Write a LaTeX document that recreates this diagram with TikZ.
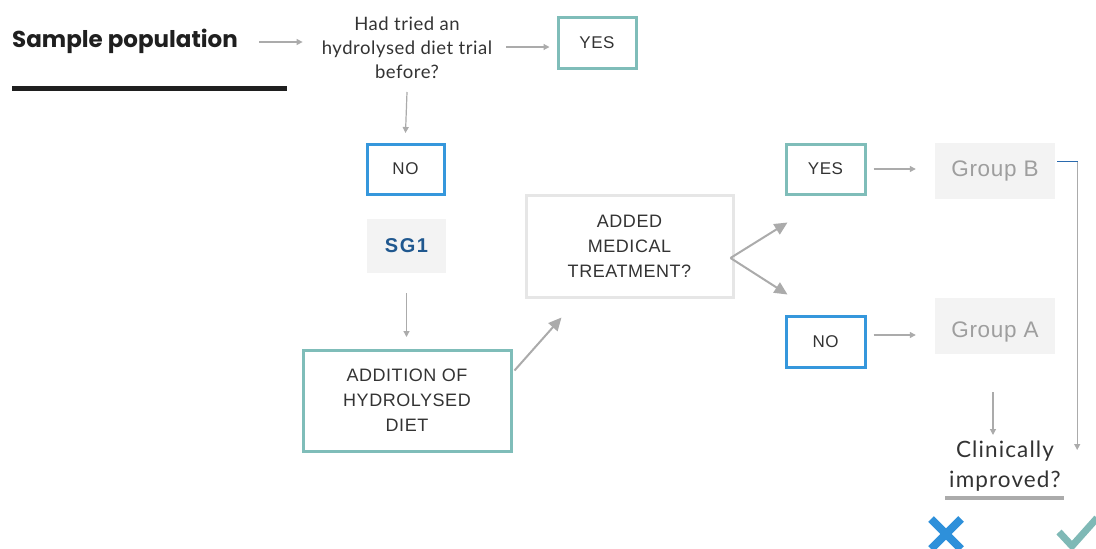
\documentclass[tikz,border=0pt]{standalone}
\usepackage{fontspec}
\setmainfont{Liberation Sans}[LetterSpace=3]
\newfontfamily\qfont{Lato}[LetterSpace=3]
\newfontfamily\cfont{Lato}[LetterSpace=5]
\newfontfamily\sgfont{Liberation Sans}[LetterSpace=8]
\newfontfamily\hfont{Poppins}
\usetikzlibrary{arrows.meta,calc}
\definecolor{tealb}{HTML}{7FBDB9}
\definecolor{blueb}{HTML}{3597DC}
\definecolor{grayb}{HTML}{E6E6E6}
\definecolor{grayf}{HTML}{F3F3F3}
\definecolor{txt}{HTML}{333333}
\definecolor{gtxt}{HTML}{9E9E9E}
\definecolor{sgblue}{HTML}{20588F}
\definecolor{arrg}{HTML}{ABABAB}
\definecolor{linkblue}{HTML}{2A6AAE}
\definecolor{xblue}{HTML}{2E90DA}
\definecolor{chk}{HTML}{7FB9B6}
\tikzset{
  x=1pt,y=1pt,
  boxt/.style={draw=tealb,line width=3pt,text=txt,font=\fontsize{17}{25}\selectfont,align=center,inner sep=0pt},
  boxb/.style={draw=blueb,line width=3pt,text=txt,font=\fontsize{17}{25}\selectfont,align=center,inner sep=0pt},
  boxg/.style={draw=grayb,line width=3pt,text=txt,font=\fontsize{18}{25}\selectfont,align=center,inner sep=0pt},
  grp/.style={fill=grayf,text=gtxt,font=\fontsize{22.5}{25}\selectfont,inner sep=0pt,minimum width=120pt,minimum height=56pt},
  qtext/.style={text=txt,font=\qfont\fontsize{18.5}{24}\selectfont,align=center,inner sep=0pt},
  arr/.style={draw=arrg,line width=1.2pt,-{Triangle[length=6pt,width=6pt]}},
  bigarr/.style={draw=arrg,line width=2pt,-{Triangle[length=13pt,width=12pt]}},
}
\begin{document}
\begin{tikzpicture}
\useasboundingbox (0,0) rectangle (1096,-549);
\clip (0,0) rectangle (1096,-549);
% title
\node[anchor=west,inner sep=0pt,text=black!88,font=\hfont\bfseries\fontsize{23}{25}\selectfont] (sp) at (12,-41) {Sample population};
\draw[line width=5pt,black!88] (12,-88) -- (287,-88);
% question 1
\node[qtext] (q1) at (407,-48) {Had tried an\\hydrolysed diet trial\\before?};
\node[boxt,minimum width=78pt,minimum height=51pt] (yes1) at (597,-42.5) {YES};
\node[boxb,minimum width=77pt,minimum height=50pt] (no1) at (405.5,-169) {NO};
\node[fill=grayf,text=sgblue,font=\sgfont\bfseries\fontsize{20}{25}\selectfont,inner sep=0pt,minimum width=79pt,minimum height=54pt] (sg1) at (406.5,-246) {SG1};
\node[boxt,font=\fontsize{18}{25}\selectfont,minimum width=208pt,minimum height=101pt] (add) at (407,-400.5) {ADDITION OF\\HYDROLYSED\\DIET};
\node[boxg,minimum width=207pt,minimum height=102pt] (med) at (629.5,-246) {ADDED\\MEDICAL\\TREATMENT?};
\node[boxt,minimum width=79pt,minimum height=50pt] (yes2) at (825.5,-169) {YES};
\node[boxb,minimum width=79pt,minimum height=51pt] (no2) at (825.5,-341.5) {NO};
\node[grp] (gb) at (995,-170.5) {Group B};
\node[grp,text height=28pt,text depth=5pt] (ga) at (995,-326) {Group A};
\node[qtext,font=\cfont\fontsize{22.5}{30}\selectfont] (ci) at (1005,-466) {Clinically\\improved?};
\draw[line width=4pt,arrg] (945,-498) -- (1064,-498);
% connectors
\draw[arr,shorten <=21pt,shorten >=19pt] (sp.east |- 0,-42) -- (q1.west |- 0,-42);
\draw[arr,shorten <=14pt,shorten >=7pt] (q1.east |- 0,-47) -- (yes1.west |- 0,-47);
\draw[arr] (q1.south |- 0,-92) -- (no1.north |- 0,-133);
\draw[arr] (sg1.south |- 0,-293) -- (sg1.south |- 0,-337);
\draw[bigarr] ($(add.north east)+(2,-22)$) -- ($(med.south west)+(37,-19)$);
\coordinate (fk) at ($(med.east)+(-4,-12)$);
\draw[bigarr] (fk) -- ($(yes2.south west)+(3,-27)$);
\draw[bigarr] (fk) -- ($(no2.north west)+(3,20)$);
\draw[arr,shorten <=7pt,shorten >=19pt] (yes2.east) -- (gb.west |- yes2.east);
\draw[arr,shorten <=7pt,shorten >=19pt] ([yshift=6.5pt]no2.east) -- (ga.west |- 0,-335);
\coordinate (cr) at ($(gb.east)+(22,9)$);
\draw[arr] (cr) -- (cr |- 0,-450);
\draw[linkblue,line width=1.8pt] ($(gb.east)+(2,9)$) -- ([xshift=0.6pt]cr);
\draw[arr] (ga.south -| 993,0) ++(0,-38) -- (993,-435);
% marks
\draw[xblue,line width=8pt] (931,-519) -- (961,-549);
\draw[xblue,line width=8pt] (961,-519) -- (931,-549);
\draw[chk,line width=7pt] (1059,-532) -- (1072,-546) -- (1097,-518);
\end{tikzpicture}
\end{document}
